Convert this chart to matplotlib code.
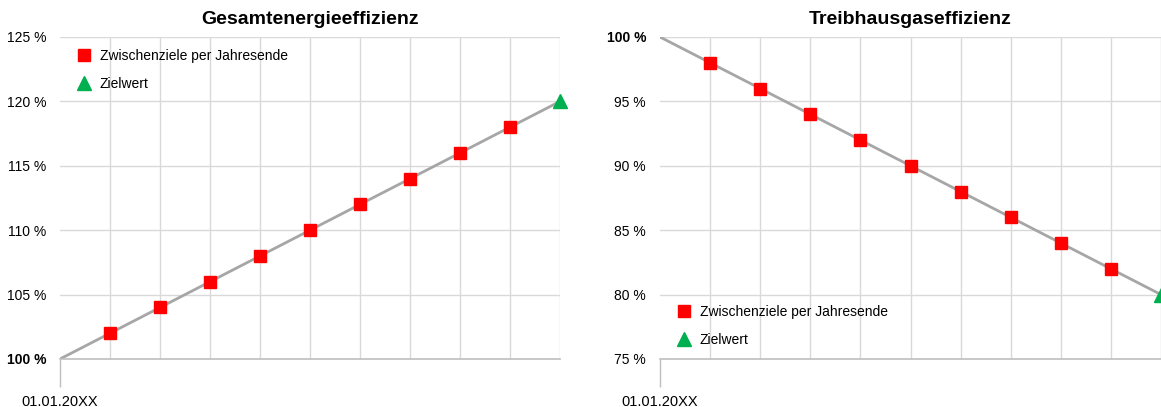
import numpy as np
import matplotlib
matplotlib.use("Agg")
from matplotlib import pyplot as plt

plt.rcParams['font.family'] = ['Liberation Sans', 'DejaVu Sans']

jahre = list(range(11))          # 0 = Start, 10 = Zieljahr
start_label = "01.01.20XX"

# Gesamtenergieeffizienz (%)
ge_start = 100
ge_zwischen = [102, 104, 106, 108, 110, 112, 114, 116, 118]
ge_ziel = 120

# Treibhausgaseffizienz (%)
thg_start = 100
thg_zwischen = [98, 96, 94, 92, 90, 88, 86, 84, 82]
thg_ziel = 80

ROT = "#FF0000"
GRUEN = "#00B050"
GRAU = "#A6A6A6"
GITTER = "#D9D9D9"


def panel(ax, titel, start, zwischen, ziel, ylim, leg_loc, leg_anchor):
    # Verbindungslinie Start -> Ziel
    ax.plot([jahre[0], jahre[-1]], [start, ziel], color=GRAU, lw=2, zorder=2)
    ax.plot(jahre[1:-1], zwischen, ls="none", marker="s", ms=8, color=ROT,
            label="Zwischenziele per Jahresende", zorder=3, clip_on=False)
    ax.plot(jahre[-1], ziel, ls="none", marker="^", ms=10, color=GRUEN,
            label="Zielwert", zorder=3, clip_on=False)

    ax.set_xlim(jahre[0], jahre[-1])
    ax.set_ylim(*ylim)
    yt = np.arange(ylim[0], ylim[1] + 1, 5)
    ax.set_yticks(yt)
    ax.set_yticklabels([f"{v:.0f} %" for v in yt])
    for lab, v in zip(ax.get_yticklabels(), yt):
        if v == 100:
            lab.set_fontweight("bold")
    ax.tick_params(axis="y", length=0, pad=10, labelsize=10)

    ax.set_xticks([jahre[0]])
    ax.set_xticklabels([start_label])
    ax.set_xticks(jahre[1:], minor=True)
    ax.tick_params(axis="x", which="major", length=20, width=1, color="#BFBFBF",
                   direction="out", pad=6, labelsize=10.5)
    ax.tick_params(axis="x", which="minor", length=0)

    ax.grid(axis="y", which="major", color=GITTER, lw=1, zorder=0)
    ax.grid(axis="x", which="minor", color=GITTER, lw=1, zorder=0)
    ax.set_axisbelow(True)
    for s in ["top", "left", "right"]:
        ax.spines[s].set_visible(False)
    ax.spines["bottom"].set_color("#BFBFBF")
    ax.spines["bottom"].set_linewidth(1.2)

    ax.set_title(titel, fontsize=14, fontweight="bold", pad=9)
    ax.legend(loc=leg_loc, bbox_to_anchor=leg_anchor, frameon=False,
              fontsize=10, handletextpad=0.55, labelspacing=1.05,
              handlelength=1.2, borderpad=0)


fig = plt.figure(figsize=(11.61, 4.07), dpi=100)
ax1 = fig.add_axes([60 / 1161, 1 - 359 / 407, 500 / 1161, 322 / 407])
ax2 = fig.add_axes([660 / 1161, 1 - 359 / 407, 501 / 1161, 322 / 407])

panel(ax1, "Gesamtenergieeffizienz", ge_start, ge_zwischen, ge_ziel,
      (100, 125), "upper left", (0.017, 0.985))
panel(ax2, "Treibhausgaseffizienz", thg_start, thg_zwischen, thg_ziel,
      (75, 100), "lower left", (0.017, 0.015))

fig.savefig("out.png", dpi=100)
